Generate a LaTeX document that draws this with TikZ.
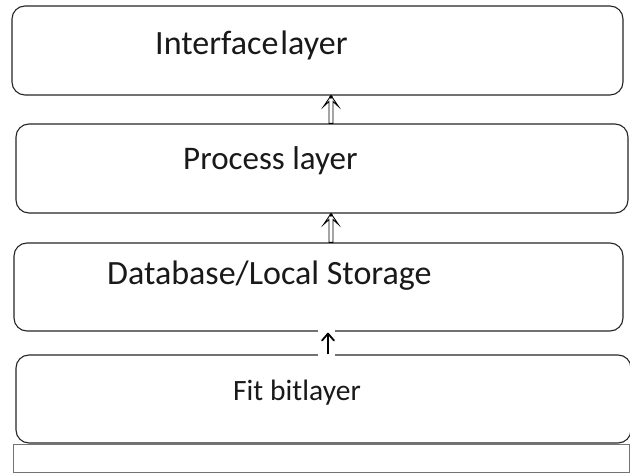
\documentclass[tikz,border=0pt]{standalone}
\usepackage{fontspec}
\setmainfont{Carlito}
\usetikzlibrary{calc}
\begin{document}
\begin{tikzpicture}[x=1pt,y=-1pt,
  layerbox/.style={draw=black!85, line width=1.1pt, rounded corners=13pt, inner sep=0pt},
  layertext/.style={anchor=base west, inner sep=0pt, font=\fontsize{34}{40}\selectfont, text=black!90},
  hollowarrow/.style={draw=black, line width=0.9pt, fill=white, line join=miter},
  basebar/.style={draw=black!55, line width=0.9pt}
]
\useasboundingbox (0,0) rectangle (630,473);
\clip (0,0) rectangle (630,473);
\fill[white] (0,0) rectangle (630,473);

% layer boxes
\node[layerbox, minimum width=611pt, minimum height=89pt] (b1) at (317.5,50.5) {};
\node[layerbox, minimum width=612pt, minimum height=89pt] (b2) at (322,168.5) {};
\node[layerbox, minimum width=609pt, minimum height=88pt] (b3) at (318.5,287) {};
\node[layerbox, minimum width=615pt, minimum height=88pt] (b4) at (323.5,399) {};
% bottom bar
\node[basebar, minimum width=616pt, minimum height=28pt, inner sep=0pt] (bar) at (321,458) {};

% texts
\node[layertext] (t1) at (155,55) {Interface\kern2pt layer};
\node[layertext, font=\fontsize{33}{40}\selectfont] (t2) at (183,170) {Process layer};
\node[layertext] (t3) at (107,285) {Database/Local Storage};
\node[layertext, font=\fontsize{29.5}{36}\selectfont] (t4) at (233,400) {Fit bit\kern0.3pt layer};

% hollow arrows
\coordinate (ax) at (331,0);
\draw[hollowarrow] let \p1=(b2.north -| ax), \p2=(b1.south -| ax) in
  (\x2,\y2) -- (\x2+7.5,\y2-11) -- (\x2+2,\y2-6) -- (\x1+2,\y1) -- (\x1-2,\y1)
  -- (\x2-2,\y2-6) -- (\x2-7.5,\y2-11) -- cycle;
\fill let \p2=(b1.south -| ax) in (\x2,\y2-1.5) circle (1.8pt);
\draw[hollowarrow] let \p1=(b3.north -| ax), \p2=(b2.south -| ax) in
  (\x2,\y2) -- (\x2+7.5,\y2-11) -- (\x2+2,\y2-6) -- (\x1+2,\y1) -- (\x1-2,\y1)
  -- (\x2-2,\y2-6) -- (\x2-7.5,\y2-11) -- cycle;
\fill let \p2=(b2.south -| ax) in (\x2,\y2-1.5) circle (1.8pt);

% simple arrow on white patch
\coordinate (ay) at (328,0);
\fill[white] let \p1=(b4.north -| ay), \p2=(b3.south -| ay) in (\x1-10,\y1-2) rectangle (\x1+7,\y2+2);
\draw[line width=1.8pt, black] (b4.north -| ay) -- ($(b3.south -| ay)+(0,1.5)$);
\draw[line width=1.8pt, black, line cap=round, line join=round] let \p2=(b3.south -| ay) in
  (\x2-6,\y2-9) -- (\x2,\y2-2) -- (\x2+6,\y2-9);
\end{tikzpicture}
\end{document}
